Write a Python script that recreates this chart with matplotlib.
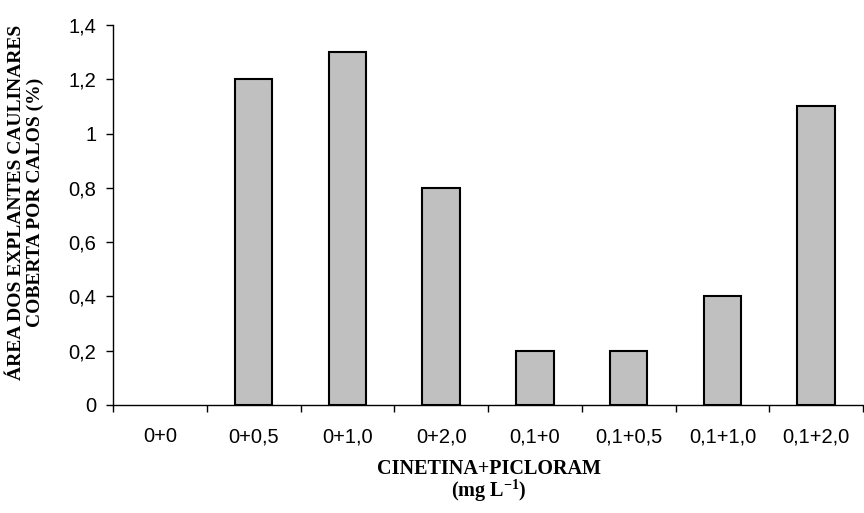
import numpy as np
import matplotlib.pyplot as plt
from matplotlib.ticker import FixedLocator, FuncFormatter

plt.rcParams["mathtext.fontset"] = "custom"
plt.rcParams["mathtext.bf"] = "Liberation Serif:bold"
plt.rcParams["mathtext.rm"] = "Liberation Serif"

# dados
tratamentos = ["0+0", "0+0,5", "0+1,0", "0+2,0", "0,1+0", "0,1+0,5", "0,1+1,0", "0,1+2,0"]
area_calos = [0, 1.2, 1.3, 0.8, 0.2, 0.2, 0.4, 1.1]
y_ticks = [0, 0.2, 0.4, 0.6, 0.8, 1.0, 1.2, 1.4]

fig = plt.figure(figsize=(8.64, 5.13), dpi=100)
ax = fig.add_axes([113 / 864, 1 - 405 / 513, 1 - 113 / 864 - 0.001, (405 - 25) / 513])

x = np.arange(len(tratamentos))
edges = ["black" if v > 0 else "none" for v in area_calos]
ax.bar(x, area_calos, width=0.4, color="#c0c0c0", edgecolor=edges, linewidth=1.5)

ax.set_xlim(-0.5, len(tratamentos) - 0.5)
ax.set_ylim(0, 1.4)

for s in ["top", "right"]:
    ax.spines[s].set_visible(False)
for s in ["left", "bottom"]:
    ax.spines[s].set_linewidth(1.0)

tick_font = {"family": "Liberation Sans", "size": 14.5}

# eixo y com virgula decimal
ax.yaxis.set_major_locator(FixedLocator(y_ticks))
ax.yaxis.set_major_formatter(FuncFormatter(lambda v, p: ("%g" % round(v, 1)).replace(".", ",")))
ax.tick_params(axis="y", direction="out", length=5, width=1, pad=7)
for lab in ax.get_yticklabels():
    lab.set_fontfamily(tick_font["family"])
    lab.set_fontsize(tick_font["size"])

# eixo x: tracos entre categorias, rotulos no centro
ax.xaxis.set_major_locator(FixedLocator(np.arange(-0.5, len(tratamentos), 1.0)))
ax.xaxis.set_major_formatter(FuncFormatter(lambda v, p: ""))
ax.set_xticks(x, tratamentos, minor=True)
ax.tick_params(axis="x", which="major", direction="out", length=5, width=1)
ax.tick_params(axis="x", which="minor", length=0, pad=16)
for lab in ax.get_xticklabels(minor=True):
    lab.set_fontfamily(tick_font["family"])
    lab.set_fontsize(tick_font["size"])

fig.text(26 / 864, 1 - 202 / 513, "ÁREA DOS EXPLANTES CAULINARES\nCOBERTA POR CALOS (%)",
         rotation=90, ha="center", va="center", linespacing=1.2,
         family="Liberation Serif", weight="bold", size=14)
fig.text(489 / 864, 1 - 469 / 513, "CINETINA+PICLORAM", ha="center", va="center",
         family="Liberation Serif", weight="bold", size=14.5)
fig.text(489 / 864, 1 - 491 / 513, r"(mg L$^{\mathbf{-1}}$)", ha="center", va="center",
         family="Liberation Serif", weight="bold", size=14.5)

fig.savefig("out.png", dpi=100)
plt.close()
